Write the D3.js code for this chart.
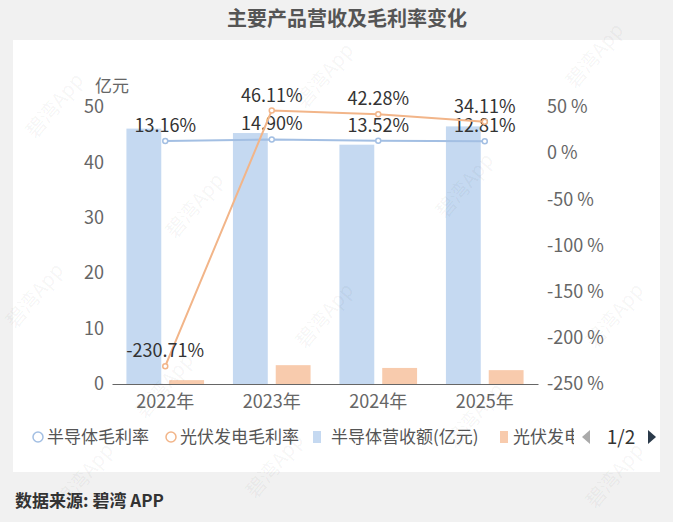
<!DOCTYPE html>
<html lang="zh">
<head>
<meta charset="UTF-8">
<title>主要产品营收及毛利率变化</title>
<script src="https://cdn.jsdelivr.net/npm/d3@7/dist/d3.min.js"></script>
<style>
    body { margin: 0; background: #f1f1f1; }
    svg text { font-family: "Noto Sans CJK SC", "Noto Sans", sans-serif; }
    .axis text { font-size: 18px; fill: #666; }
</style>
</head>
<body>
<div id="output"></div>
<script>

var years = ["2022年", "2023年", "2024年", "2025年"];
var semiRevenue = [46.1, 45.3, 43.2, 46.5];     // 半导体营收额(亿元)
var pvRevenue = [0.7, 3.4, 2.9, 2.5];           // 光伏发电营收额(亿元)
var semiMargin = [13.16, 14.90, 13.52, 12.81];  // 半导体毛利率 %
var pvMargin = [-230.71, 46.11, 42.28, 34.11];  // 光伏发电毛利率 %
var leftTicks = [0, 10, 20, 30, 40, 50];
var rightTicks = [-250, -200, -150, -100, -50, 0, 50];

var w = 673;
var h = 522;

var svg = d3.select("#output")
        .append("svg")
        .attr("width", w)
        .attr("height", h);

svg.append("rect")
        .attr("width", w).attr("height", h)
        .attr("fill", "#f1f1f1");

// white panel
svg.append("rect")
        .attr("x", 13).attr("y", 40)
        .attr("width", 647).attr("height", 432)
        .attr("fill", "#ffffff");

svg.append("text")
        .text("主要产品营收及毛利率变化")
        .attr("x", 347).attr("y", 26)
        .attr("text-anchor", "middle")
        .style("font-size", "20px")
        .style("font-weight", "bold")
        .attr("fill", "#555");

svg.append("text")
        .text("数据来源: 碧湾 APP")
        .attr("x", 15).attr("y", 507)
        .style("font-size", "17px")
        .style("font-weight", "bold")
        .attr("fill", "#333");

var xScale = d3.scaleBand()
        .domain(years)
        .range([112, 538]);

var seriesScale = d3.scaleBand()
        .domain(["semi", "pv"])
        .range([0, xScale.bandwidth()])
        .paddingInner(0.186)
        .paddingOuter(0.337);

var yLeft = d3.scaleLinear()
        .domain([0, 50])
        .range([384, 107]);

var yRight = d3.scaleLinear()
        .domain([-250, 50])
        .range([384, 107]);

var chartLayer = svg.append("g");

var barData = years.map(function(y, i) {
    return [{ key: "semi", year: y, value: semiRevenue[i] },
            { key: "pv", year: y, value: pvRevenue[i] }];
});
var barColor = { semi: "#c5d9f1", pv: "#f8cbad" };

chartLayer.selectAll("g.bars")
        .data(barData)
        .enter()
        .append("g")
        .selectAll("rect")
        .data(function(d) { return d; })
        .enter()
        .append("rect")
            .attr("x", function(d) { return xScale(d.year) + seriesScale(d.key); })
            .attr("y", function(d) { return yLeft(d.value); })
            .attr("width", seriesScale.bandwidth())
            .attr("height", function(d) { return yLeft(0) - yLeft(d.value); })
            .attr("fill", function(d) { return barColor[d.key]; });

// axes
var xAxis = svg.append("g")
        .attr("class", "axis")
        .attr("transform", "translate(0," + yLeft(0) + ")")
        .call(d3.axisBottom(xScale).tickSize(0).tickPadding(8));
xAxis.select(".domain").attr("stroke", "#666");

var yAxisL = svg.append("g")
        .attr("class", "axis")
        .attr("transform", "translate(104,0)")
        .call(d3.axisLeft(yLeft).tickValues(leftTicks).tickSize(0).tickPadding(0));
yAxisL.select(".domain").remove();

var yAxisR = svg.append("g")
        .attr("class", "axis")
        .attr("transform", "translate(547,0)")
        .call(d3.axisRight(yRight).tickValues(rightTicks).tickSize(0).tickPadding(0)
            .tickFormat(function(d) { return d + " %"; }));
yAxisR.select(".domain").remove();

svg.selectAll(".axis text").attr("fill", "#666").style("font-size", "18px");
xAxis.selectAll("text").attr("dy", "0.9em");

svg.append("text")
        .text("亿元")
        .attr("x", 95).attr("y", 92)
        .style("font-size", "17px")
        .attr("fill", "#666");

// margin lines
var line = d3.line()
        .x(function(d) { return xScale(d.year) + xScale.bandwidth() / 2; })
        .y(function(d) { return yRight(d.value); });

var lines = [
    { key: "semi", color: "#a3bfe3", values: semiMargin },
    { key: "pv", color: "#f2b589", values: pvMargin }
];

lines.forEach(function(s) {
    var pts = years.map(function(y, i) { return { year: y, value: s.values[i] }; });
    chartLayer.append("path")
            .attr("d", line(pts))
            .attr("fill", "none")
            .attr("stroke", s.color)
            .attr("stroke-width", 2);
    chartLayer.selectAll("circle." + s.key)
            .data(pts)
            .enter()
            .append("circle")
            .attr("class", s.key)
            .attr("cx", function(d) { return xScale(d.year) + xScale.bandwidth() / 2; })
            .attr("cy", function(d) { return yRight(d.value); })
            .attr("r", 2.5)
            .attr("fill", "#fff")
            .attr("stroke", s.color)
            .attr("stroke-width", 1.5);
    chartLayer.selectAll("text." + s.key)
            .data(pts)
            .enter()
            .append("text")
            .attr("class", s.key)
            .text(function(d) { return d.value.toFixed(2) + "%"; })
            .attr("x", function(d) { return xScale(d.year) + xScale.bandwidth() / 2; })
            .attr("y", function(d) { return yRight(d.value) - 9; })
            .attr("text-anchor", "middle")
            .style("font-size", "18px")
            .attr("fill", "#333");
});

// legend
var legend = svg.append("g");
var legendFont = "17px";
[[38, "#a3bfe3"], [171, "#f2b589"]].forEach(function(c) {
    legend.append("circle")
            .attr("cx", c[0]).attr("cy", 437).attr("r", 5)
            .attr("fill", "#fff").attr("stroke", c[1]).attr("stroke-width", 1.5);
});
[[313, "#c5d9f1"], [500, "#f8cbad"]].forEach(function(c) {
    legend.append("rect")
            .attr("x", c[0]).attr("y", 431).attr("width", 8).attr("height", 12)
            .attr("fill", c[1]);
});
var clip = svg.append("clipPath").attr("id", "legclip");
clip.append("rect").attr("x", 0).attr("y", 400).attr("width", 574).attr("height", 60);
[[47, "半导体毛利率"], [180, "光伏发电毛利率"], [331, "半导体营收额(亿元)"], [513, "光伏发电营收额(亿元)"]]
    .forEach(function(t) {
        legend.append("text")
                .text(t[1])
                .attr("x", t[0]).attr("y", 443)
                .attr("clip-path", "url(#legclip)")
                .style("font-size", legendFont)
                .attr("fill", "#555");
    });
legend.append("path")
        .attr("d", "M590,430 L590,444 L582,437 Z")
        .attr("fill", "#aaa");
legend.append("text")
        .text("1/2")
        .attr("x", 621).attr("y", 444)
        .attr("text-anchor", "middle")
        .style("font-size", "19px")
        .attr("fill", "#333");
legend.append("path")
        .attr("d", "M648,430 L648,444 L656,437 Z")
        .attr("fill", "#2b3a4a");

// watermark
var wm = svg.append("g").attr("pointer-events", "none");
var wmPos = [[60, 110], [200, 210], [330, 80], [470, 190], [600, 60], [40, 300],
             [170, 390], [330, 320], [480, 420], [620, 320], [90, 480], [280, 470], [620, 480]];
wmPos.forEach(function(p) {
    wm.append("text")
            .text("碧湾App")
            .attr("transform", "translate(" + p[0] + "," + p[1] + ") rotate(-50)")
            .attr("text-anchor", "middle")
            .style("font-size", "20px")
            .attr("fill", "rgba(0,0,0,0.05)");
});

</script>
</body>
</html>
